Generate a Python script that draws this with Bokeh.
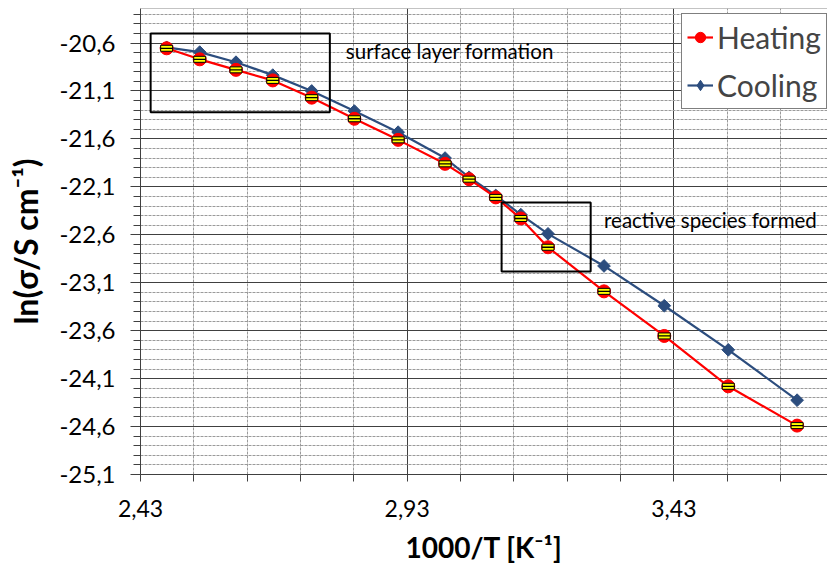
import numpy as np
from bokeh.plotting import figure
from bokeh.models import (FixedTicker, Range1d, Legend, LegendItem, BoxAnnotation,
                          Label, Span)
from bokeh.embed import file_html
from bokeh.resources import INLINE

# ---- data ----
inv_T = [2.479, 2.541, 2.609, 2.678, 2.751, 2.831, 2.913, 3.001, 3.046, 3.096,
         3.143, 3.194, 3.299, 3.412, 3.532, 3.661]
heating = [-20.655, -20.77, -20.88, -20.99, -21.17, -21.39, -21.61, -21.86, -22.02,
           -22.21, -22.43, -22.73, -23.19, -23.655, -24.18, -24.59]
cooling = [-20.645, -20.695, -20.80, -20.935, -21.10, -21.31, -21.53, -21.80, -22.00,
           -22.19, -22.39, -22.59, -22.925, -23.34, -23.80, -24.325]

x_major = [2.43, 2.93, 3.43]
x_minor = [2.53, 2.63, 2.73, 2.83, 3.03, 3.13, 3.23, 3.33, 3.53, 3.63]
y_major = [-25.1, -24.6, -24.1, -23.6, -23.1, -22.6, -22.1, -21.6, -21.1, -20.6]
y_minor = [round(-25.1 + 0.1 * i, 1) for i in range(49)]
x_lo, x_hi = 2.43, 3.718
y_lo, y_hi = -25.1, -20.24

# annotation boxes (data units) and texts
box1 = dict(left=2.449, right=2.785, bottom=-21.322, top=-20.502)
box2 = dict(left=3.107, right=3.274, bottom=-22.982, top=-22.263)
note1 = (2.815, -20.686, "surface layer formation")
note2 = (3.299, -22.444, "reactive species formed")

RED = "#FF0000"
BLUE = "#2C4D7E"
FONT = "Lato"

p = figure(width=827, height=569, output_backend="svg", toolbar_location=None,
           x_range=Range1d(x_lo, x_hi), y_range=Range1d(y_lo, y_hi),
           min_border_left=140, min_border_right=0, min_border_top=8,
           min_border_bottom=95)
p.outline_line_color = None
p.background_fill_color = "white"
p.border_fill_color = "white"

# axes
p.xaxis.ticker = FixedTicker(ticks=x_major, minor_ticks=x_minor)
p.yaxis.ticker = FixedTicker(ticks=y_major, minor_ticks=y_minor)
p.xaxis.major_label_overrides = {t: f"{t:.2f}".replace(".", ",") for t in x_major}
p.yaxis.major_label_overrides = {t: f"{t:.1f}".replace(".", ",") for t in y_major}
for ax in (p.xaxis, p.yaxis):
    ax.axis_line_color = "#404040"
    ax.major_tick_line_color = "#404040"
    ax.minor_tick_line_color = "#404040"
    ax.major_tick_in = 0
    ax.minor_tick_in = 0
    ax.major_label_text_font = FONT
    ax.major_label_text_color = "black"
    ax.axis_label_text_font = FONT
    ax.axis_label_text_font_style = "bold"
    ax.axis_label_text_color = "black"
p.xaxis.major_label_text_font_size = "23px"
p.yaxis.major_label_text_font_size = "24px"
p.xaxis.axis_label_text_font_size = "28px"
p.yaxis.axis_label_text_font_size = "32px"
p.yaxis.major_tick_out = 10
p.yaxis.minor_tick_out = 7
p.xaxis.major_tick_out = 7
p.xaxis.minor_tick_out = 7
p.yaxis.major_label_standoff = 15
p.xaxis.major_label_standoff = 18
p.yaxis.axis_label_standoff = 11
p.xaxis.axis_label_standoff = 10
p.xaxis.axis_label = "1000/T [K\u207b\u00b9]"
p.yaxis.axis_label = "ln(\u03c3/S cm\u207b\u00b9)"

# grids
for g in (p.xgrid, p.ygrid):
    g.grid_line_color = "#404040"
    g.grid_line_width = 1
    g.minor_grid_line_color = "#9a9a9a"
    g.minor_grid_line_dash = "3 1"
    g.minor_grid_line_width = 1
p.add_layout(Span(location=y_hi, dimension="width", line_color="#888888", line_width=1))

# series
bl = p.line(inv_T, cooling, line_color=BLUE, line_width=2.2)
bleg = p.scatter(inv_T, cooling, marker="diamond", size=8, fill_color=BLUE,
                 line_color=BLUE)
bd = p.scatter(inv_T, cooling, marker="square", angle=np.pi / 4, size=9,
               fill_color=BLUE, line_color=BLUE)
rl = p.line(inv_T, heating, line_color=RED, line_width=2.2)
rc = p.scatter(inv_T, heating, marker="circle", size=13, fill_color=RED, line_color=RED)
p.rect(inv_T, heating, width=12, height=6, width_units="screen", height_units="screen",
       fill_color="#FFFF00", line_color="black", line_width=1)
p.scatter(inv_T, heating, marker="dash", size=12, line_color="black", line_width=1.3)

# annotation boxes and texts
for b in (box1, box2):
    p.add_layout(BoxAnnotation(left=b["left"], right=b["right"], bottom=b["bottom"],
                               top=b["top"], fill_alpha=0, line_color="black",
                               line_alpha=1, line_width=2))
for (tx, ty, tt) in (note1, note2):
    p.add_layout(Label(x=tx, y=ty, text=tt, text_font=FONT, text_font_size="20.5px",
                       text_baseline="middle", text_color="black"))

legend = Legend(items=[LegendItem(label="Heating", renderers=[rl, rc]),
                       LegendItem(label="Cooling", renderers=[bl, bleg])],
                location=(541, 365), label_text_font=FONT, label_text_font_size="30px",
                glyph_width=26, glyph_height=34, label_standoff=4, padding=5,
                spacing=12, border_line_color="black", border_line_width=1,
                background_fill_color="white", background_fill_alpha=1, margin=0)
p.add_layout(legend)

open("out.html", "w").write(file_html(p, INLINE))
